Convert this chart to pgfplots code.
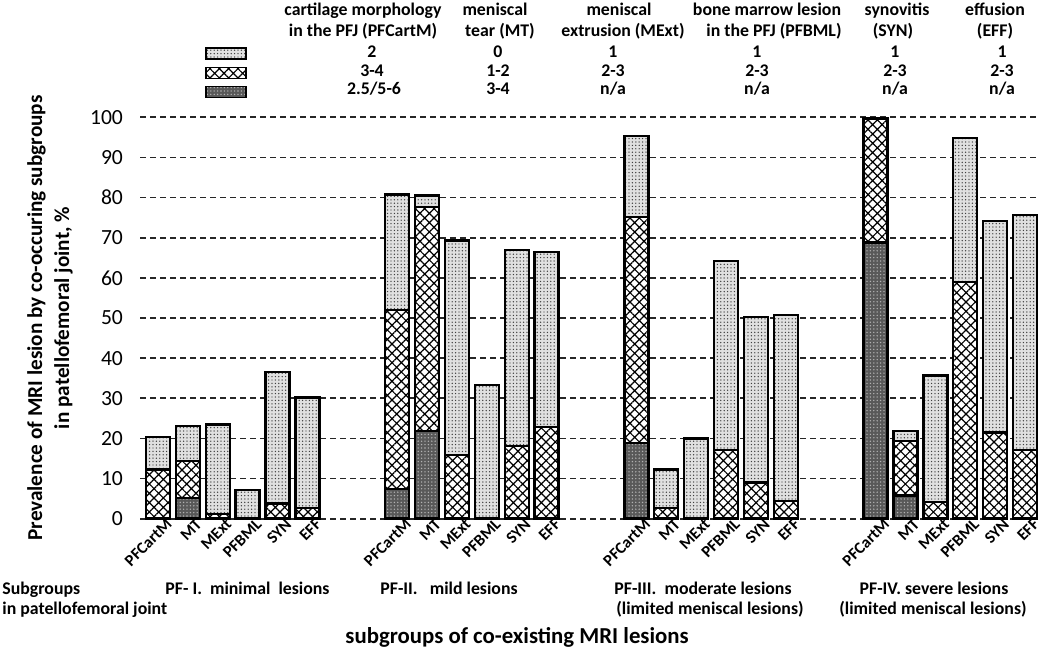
\documentclass[border=0pt]{standalone}
\usepackage{pgfplots}
\pgfplotsset{compat=1.18}
\usepackage{pgfplotstable}
\usepackage{fontspec}
\setmainfont{Carlito}
\usetikzlibrary{patterns.meta}

\pgfplotstableread{
x dark cross dot
0 0 12.3 8.1
1 5.1 9.3 8.7
2 0 1.1 22.4
3 0 0 7.1
4 0 3.8 32.7
5 0 2.6 27.6
8 7.4 44.6 28.8
9 21.8 55.8 2.9
10 0 15.8 53.5
11 0 0 33.3
12 0 18.1 48.8
13 0 22.9 43.6
16 18.8 56.4 20.2
17 0 2.6 9.7
18 0 0 20.0
19 0 17.1 47.1
20 0 9.0 41.2
21 0 4.4 46.3
24 68.8 30.9 0
25 5.8 13.6 2.5
26 0 4.2 31.5
27 0 59.0 35.9
28 0 21.5 52.7
29 0 17.1 58.5
}\data

\tikzset{
  darkfill/.style={fill=black!65, postaction={pattern={Dots[distance=1.7pt,radius=0.38pt]}, pattern color=white!70!black}},
  crossfill/.style={fill=white, postaction={pattern={Hatch[angle=45,distance=3.3pt,line width=0.6pt]}, pattern color=black}},
  dotfill/.style={fill=black!12, postaction={pattern={Dots[distance=1.7pt,radius=0.36pt]}, pattern color=black!75}},
}

\begin{document}
\begin{tikzpicture}
\path[use as bounding box] (0,0) rectangle (525pt,326pt);
\begin{axis}[
  at={(70pt,66.65pt)}, anchor=south west,
  scale only axis, width=450pt, height=200.7pt,
  ybar stacked, bar width=12pt,
  xmin=-0.6, xmax=29.5, ymin=0, ymax=100,
  enlargelimits=false, clip=false,
  axis line style={draw=none},
  major tick length=0pt,
  ytick={0,10,...,100},
  xtick={0,1,2,3,4,5,8,9,10,11,12,13,16,17,18,19,20,21,24,25,26,27,28,29},
  xticklabels={PFCartM,MT,MExt,PFBML,SYN,EFF,PFCartM,MT,MExt,PFBML,SYN,EFF,PFCartM,MT,MExt,PFBML,SYN,EFF,PFCartM,MT,MExt,PFBML,SYN,EFF},
  xticklabel style={rotate=45, anchor=east, font=\bfseries\fontsize{8.2}{9}\selectfont, inner sep=1pt, yshift=-5pt, xshift=4pt},
  yticklabel style={font=\fontsize{10.8}{12}\selectfont, xshift=-5pt},
  /pgf/number format/assume math mode=true,
  ymajorgrids,
  major grid style={black!85, line width=0.85pt, dash pattern=on 3pt off 2pt},
  ylabel={Prevalence of MRI lesion by co-occuring subgroups\\in patellofemoral joint, \%},
  ylabel style={at={(axis description cs:-0.1000,0.5)}, rotate=0, anchor=center, align=center, font=\bfseries\fontsize{10.6}{13.5}\selectfont},
  xlabel={subgroups of co-existing MRI lesions},
  xlabel style={at={(axis description cs:0.419,-0.2947)}, anchor=center, font=\bfseries\fontsize{11.4}{13}\selectfont},
  legend image code/.code={\draw[#1, line width=0.8pt] (0pt,-2.75pt) rectangle (20pt,2.75pt);},
  reverse legend,
  legend style={at={(axis description cs:0.0722,1.175)}, anchor=north west, draw=none, fill=none, inner sep=0pt, row sep=3.3pt, font=\fontsize{4}{4}\selectfont, nodes={inner sep=0pt}},
]
\addplot[draw=black, line width=1.2pt, darkfill] table[x=x, y=dark] {\data};
\addlegendentry{~}
\addplot[draw=black, line width=1.2pt, crossfill] table[x=x, y=cross] {\data};
\addlegendentry{~}
\addplot[draw=black, line width=1.2pt, dotfill] table[x=x, y=dot] {\data};
\addlegendentry{~}
\end{axis}

\begin{scope}[x=0.5pt, y=-0.5pt, shift={(0pt,326pt)}, every node/.style={font=\bfseries\fontsize{8.9}{10}\selectfont, inner sep=0pt}]
% header titles
\node[anchor=base] at (363,16) {cartilage morphology};
\node[anchor=base] at (363,36.5) {in the PFJ (PFCartM)};
\node[anchor=base] at (495,16) {meniscal};
\node[anchor=base] at (500,36.5) {tear (MT)};
\node[anchor=base] at (619,16) {meniscal};
\node[anchor=base] at (623,36.5) {extrusion (MExt)};
\node[anchor=base] at (767,16) {bone marrow lesion};
\node[anchor=base] at (774,36.5) {in the PFJ (PFBML)};
\node[anchor=base] at (897,16) {synovitis};
\node[anchor=base] at (893,36.5) {(SYN)};
\node[anchor=base] at (995,16) {effusion};
\node[anchor=base] at (995,36.5) {(EFF)};
% header values
\node[anchor=base] at (372,58) {2};
\node[anchor=base] at (372,77) {3-4};
\node[anchor=base] at (374,95) {2.5/5-6};
\node[anchor=base] at (498,58) {0};
\node[anchor=base] at (498,77) {1-2};
\node[anchor=base] at (498,95) {3-4};
\node[anchor=base] at (613,58) {1};
\node[anchor=base] at (613,77) {2-3};
\node[anchor=base] at (613,95) {n/a};
\node[anchor=base] at (757,58) {1};
\node[anchor=base] at (757,77) {2-3};
\node[anchor=base] at (757,95) {n/a};
\node[anchor=base] at (895,58) {1};
\node[anchor=base] at (895,77) {2-3};
\node[anchor=base] at (895,95) {n/a};
\node[anchor=base] at (1002,58) {1};
\node[anchor=base] at (1002,77) {2-3};
\node[anchor=base] at (1002,95) {n/a};
% bottom group labels
\node[anchor=base west] at (2,595) {Subgroups};
\node[anchor=base west] at (2,615) {in patellofemoral joint};
\node[anchor=base west] at (165,595) {PF-~I.~~minimal~~lesions};
\node[anchor=base west] at (380,595) {PF-II.~~~mild lesions};
\node[anchor=base] at (703,595) {PF-III.~~moderate lesions};
\node[anchor=base] at (710,615) {(limited meniscal lesions)};
\node[anchor=base] at (934,595) {PF-IV. severe lesions};
\node[anchor=base] at (933,615) {(limited meniscal lesions)};
\end{scope}
\end{tikzpicture}
\end{document}
